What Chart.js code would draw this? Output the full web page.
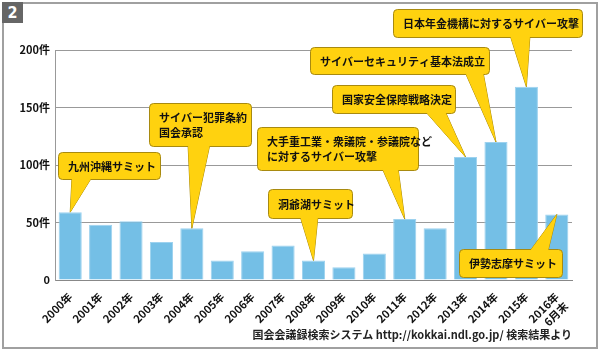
<!DOCTYPE html>
<html>
<head>
<meta charset="utf-8">
<script src="https://cdn.jsdelivr.net/npm/chart.js@4/dist/chart.umd.min.js"></script>
<style>
  html, body { margin: 0; padding: 0; background: #fff; }
  #wrap { position: relative; width: 600px; height: 351px; }
  #frame { position: absolute; left: 2px; top: 2px; width: 592px; height: 343px; border: 2px solid #a0a0a0; }
  #num { position: absolute; left: 2px; top: 2px; width: 21px; height: 21px; background: #666; color: #fff;
         font: bold 16px "DejaVu Sans Condensed", "DejaVu Sans", sans-serif; text-align: center; line-height: 21px; }
  #note { position: absolute; right: 28px; top: 326px; font: bold 11px "Noto Sans CJK JP", sans-serif; color: #222; }
  canvas { position: absolute; left: 0; top: 0; }
</style>
</head>
<body>
<div id="wrap">
  <div id="frame"></div>
  <div id="num">2</div>
  <canvas id="chartCanvas" width="600" height="351"></canvas>
  <div id="note">国会会議録検索システム http://kokkai.ndl.go.jp/ 検索結果より</div>
</div>
<script>
const years = ["2000年", "2001年", "2002年", "2003年", "2004年", "2005年", "2006年", "2007年", "2008年",
	"2009年", "2010年", "2011年", "2012年", "2013年", "2014年", "2015年", ["2016年", "6月末"]];
const counts = [59, 48, 51, 33, 45, 17, 25, 30, 17, 11, 23, 53, 45, 107, 120, 168, 57];
const yTicks = [0, 50, 100, 150, 200];

// events: bar index + text lines
const eventBars = [0, 4, 11, 8, 13, 14, 15, 16];
const eventTexts = [
	["九州沖縄サミット"],
	["サイバー犯罪条約", "国会承認"],
	["大手重工業・衆議院・参議院など", "に対するサイバー攻撃"],
	["洞爺湖サミット"],
	["国家安全保障戦略決定"],
	["サイバーセキュリティ基本法成立"],
	["日本年金機構に対するサイバー攻撃"],
	["伊勢志摩サミット"]
];

// callout box layout (x, y, w, h, pointer base x0, x1, side)
const boxLayout = [
	[58, 152, 102, 27, 72, 92, "b"],
	[149, 103, 102, 43, 188, 210, "b"],
	[257, 127, 161, 43, 382, 398, "b"],
	[268, 189, 84, 29, 300, 318, "b"],
	[332, 85, 123, 28, 425, 445, "b"],
	[310, 47, 179, 27, 465, 483, "b"],
	[393, 9, 189, 28, 510, 530, "b"],
	[459, 249, 103, 28, 530, 548, "t"]
];

function roundRect(ctx, x, y, w, h, r) {
	ctx.beginPath();
	ctx.moveTo(x + r, y);
	ctx.lineTo(x + w - r, y);
	ctx.quadraticCurveTo(x + w, y, x + w, y + r);
	ctx.lineTo(x + w, y + h - r);
	ctx.quadraticCurveTo(x + w, y + h, x + w - r, y + h);
	ctx.lineTo(x + r, y + h);
	ctx.quadraticCurveTo(x, y + h, x, y + h - r);
	ctx.lineTo(x, y + r);
	ctx.quadraticCurveTo(x, y, x + r, y);
	ctx.closePath();
}

const calloutPlugin = {
	id: "callouts",
	afterDatasetsDraw(chart) {
		const ctx = chart.ctx;
		const meta = chart.getDatasetMeta(0);
		ctx.save();
		ctx.lineWidth = 1;
		ctx.fillStyle = "#ffd20f";
		ctx.strokeStyle = "#a88a10";
		eventBars.forEach((bi, k) => {
			const bar = meta.data[bi];
			const [x, y, w, h, b0, b1, side] = boxLayout[k];
			const by = side === "b" ? y + h - 2 : y + 2;
			const tri = () => {
				ctx.beginPath();
				ctx.moveTo(b0, by);
				ctx.lineTo(bar.x, bar.y);
				ctx.lineTo(b1, by);
				ctx.closePath();
			};
			tri(); ctx.fill(); ctx.stroke();
			roundRect(ctx, x + 0.5, y + 0.5, w, h, 4);
			ctx.fill(); ctx.stroke();
			tri(); ctx.fill();
			ctx.fillStyle = "#111";
			ctx.font = "bold 11px 'Noto Sans CJK JP'";
			ctx.textBaseline = "middle";
			const lines = eventTexts[k];
			const lh = 15;
			const ty = y + h / 2 - (lines.length - 1) * lh / 2 + 1;
			lines.forEach((t, i) => ctx.fillText(t, x + 10, ty + i * lh));
			ctx.fillStyle = "#ffd20f";
		});
		ctx.restore();
	}
};

new Chart(document.getElementById("chartCanvas"), {
	type: "bar",
	data: {
		labels: years,
		datasets: [{
			data: counts,
			backgroundColor: "#74bfe6",
			borderColor: "#9dd2ef",
			borderWidth: 1,
			categoryPercentage: 1,
			barPercentage: 0.76
		}]
	},
	options: {
		responsive: false,
		animation: false,
		layout: { padding: { left: 0, top: 50, right: 28, bottom: 0 } },
		plugins: { legend: { display: false }, tooltip: { enabled: false } },
		scales: {
			x: {
				grid: { display: false },
				border: { color: "#888", width: 1 },
				ticks: {
					color: "#111",
					font: { family: "Noto Sans CJK JP", weight: "bold", size: 11 },
					autoSkip: false,
					minRotation: 45, maxRotation: 45, padding: 2
				},
				afterFit(scale) { scale.height = 71; }
			},
			y: {
				min: 0, max: 200,
				afterBuildTicks(scale) { scale.ticks = yTicks.map(v => ({ value: v })); },
				grid: { color: "#999", drawTicks: false },
				border: { color: "#999", width: 1 },
				ticks: {
					color: "#111",
					padding: 5,
					font: { family: "Noto Sans CJK JP", weight: "bold", size: 11 },
					callback: v => v === 0 ? "0" : v + "件"
				},
				afterFit(scale) { scale.width = 55; }
			}
		}
	},
	plugins: [calloutPlugin]
});
</script>
</body>
</html>
